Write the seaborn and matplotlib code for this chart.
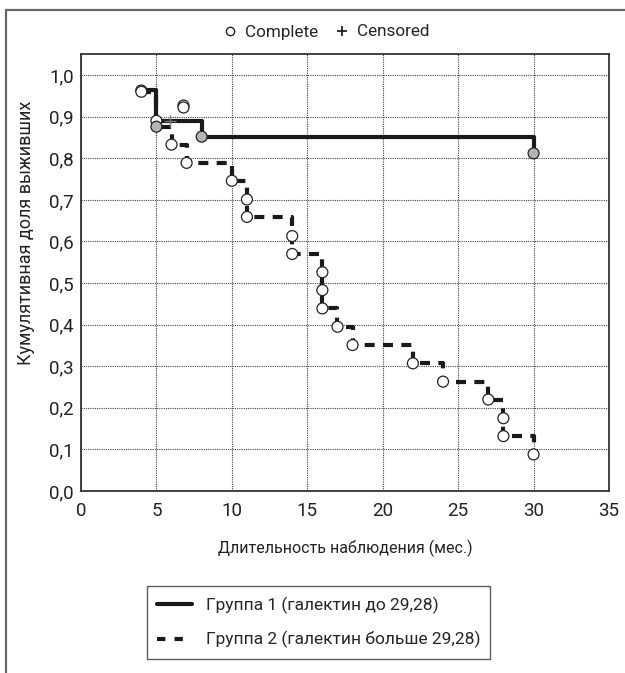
import matplotlib
matplotlib.use("Agg")
import matplotlib.pyplot as plt
from matplotlib.lines import Line2D
import seaborn as sns

# ---- data ----
g1_time = [4, 5, 5, 8, 8, 30, 30]
g1_surv = [0.965, 0.965, 0.889, 0.889, 0.852, 0.852, 0.812]
g1_mark_t = [4, 5, 8, 30]
g1_mark_s = [0.963, 0.890, 0.852, 0.812]
g1_mark_face = ["white", "white", "#b4b4b4", "#b4b4b4"]
g1_cens_t = [5.9]
g1_cens_s = [0.889]

g2_time = [4, 5, 6, 7, 10, 11, 14, 16, 17, 18, 22, 24, 27, 28, 30]
g2_surv = [0.960, 0.876, 0.833, 0.789, 0.746, 0.659, 0.570, 0.439, 0.395,
           0.351, 0.307, 0.263, 0.220, 0.132, 0.088]
g2_mark_t = [4, 5, 6, 7, 10, 11, 11, 14, 14, 16, 16, 16, 17, 18, 22, 24,
             27, 28, 28, 30]
g2_mark_s = [0.960, 0.876, 0.833, 0.789, 0.746, 0.701, 0.659, 0.613, 0.570,
             0.526, 0.483, 0.439, 0.395, 0.351, 0.307, 0.263, 0.220, 0.175,
             0.132, 0.088]
g2_mark_face = ["white", "#b4b4b4"] + ["white"] * 18
extra_t = [6.78, 6.78]
extra_s = [0.929, 0.923]

x_ticks = [0, 5, 10, 15, 20, 25, 30, 35]
y_ticks = [0.0, 0.1, 0.2, 0.3, 0.4, 0.5, 0.6, 0.7, 0.8, 0.9, 1.0]
y_tick_labels = [f"{v:.1f}".replace(".", ",") for v in y_ticks]

xlabel = "Длительность наблюдения (мес.)"
ylabel = "Кумулятивная доля выживших"
leg1 = "Группа 1 (галектин до 29,28)"
leg2 = "Группа 2 (галектин больше 29,28)"

# ---- style ----
sns.set_theme(style="white")
plt.rcParams["font.family"] = ["Roboto", "DejaVu Sans"]

fig = plt.figure(figsize=(6.25, 6.73), dpi=100)
ax = fig.add_axes([81 / 625, 1 - 491 / 673, (609 - 81) / 625, (491 - 53.5) / 673])

sns.lineplot(x=g2_time, y=g2_surv, ax=ax, color="#1a1a1a", lw=3.0,
             drawstyle="steps-post", estimator=None, sort=False,
             linestyle=(0, (2.4, 2.0)), dash_capstyle="butt", zorder=3)
sns.lineplot(x=g1_time, y=g1_surv, ax=ax, color="#1a1a1a", lw=3.0,
             estimator=None, sort=False, zorder=4)

sns.scatterplot(x=g1_mark_t, y=g1_mark_s, ax=ax, marker="o", s=62,
                color=g1_mark_face, edgecolor="#222222", linewidth=0.9, zorder=5)
sns.scatterplot(x=g2_mark_t, y=g2_mark_s, ax=ax, marker="o", s=62,
                color=g2_mark_face, edgecolor="#222222", linewidth=0.9, zorder=6)
sns.scatterplot(x=extra_t, y=extra_s, ax=ax, marker="o", s=62,
                color="white", edgecolor="#222222", linewidth=0.9, zorder=6)
sns.scatterplot(x=g1_cens_t, y=g1_cens_s, ax=ax, marker="+", s=70,
                color="#777777", linewidth=1.0, zorder=7)

ax.set_xlim(0, 35)
ax.set_ylim(0, 1.052)
ax.set_xticks(x_ticks)
ax.set_yticks(y_ticks)
ax.set_yticklabels(y_tick_labels)
ax.tick_params(axis="both", length=0, labelsize=13.5, colors="#222222")
ax.tick_params(axis="y", pad=5)
ax.tick_params(axis="x", pad=8)
ax.grid(True, color="#444444", linestyle=(0, (1, 1)), linewidth=0.8)
for sp in ax.spines.values():
    sp.set_color("#333333")
    sp.set_linewidth(1.3)
ax.set_xlabel(xlabel, fontsize=11.5, color="#222222", labelpad=14)
ax.set_ylabel(ylabel, fontsize=13, color="#222222")
ax.yaxis.set_label_coords(-0.088, 0.59)

# top legend
h_c = Line2D([], [], marker="o", ls="none", markersize=6, markerfacecolor="white",
             markeredgecolor="#222222", markeredgewidth=1.0)
h_p = Line2D([], [], marker="+", ls="none", markersize=7, color="#222222",
             markeredgewidth=1.3)
fig.legend([h_c, h_p], ["Complete", "Censored"], loc="center",
           bbox_to_anchor=(0.522, 1 - 32 / 673), ncol=2, frameon=False,
           fontsize=12.3, handlelength=0.8, handletextpad=0.5, columnspacing=1.0)

# bottom legend
h1 = Line2D([], [], color="#1a1a1a", lw=3.0)
h2 = Line2D([], [], color="#1a1a1a", lw=3.0, linestyle=(0, (2.0, 2.2)),
            dash_capstyle="butt")
lg = fig.legend([h1, h2], [leg1, leg2], loc="center",
                bbox_to_anchor=((149 + 488) / 2 / 625, 1 - (586 + 659) / 2 / 673),
                frameon=True, fancybox=False, fontsize=12.5, handlelength=2.0,
                handletextpad=0.8, labelspacing=1.0, borderpad=0.6,
                borderaxespad=0)
lg.get_frame().set_edgecolor("#333333")
lg.get_frame().set_linewidth(1.0)

# figure frame (left and top edges)
fig.add_artist(Line2D([6 / 625, 6 / 625], [0, 1 - 10 / 673], transform=fig.transFigure,
                      color="#666666", lw=1.6))
fig.add_artist(Line2D([6 / 625, 1], [1 - 10 / 673, 1 - 10 / 673],
                      transform=fig.transFigure, color="#666666", lw=1.6))

fig.savefig("out.png", dpi=100)
